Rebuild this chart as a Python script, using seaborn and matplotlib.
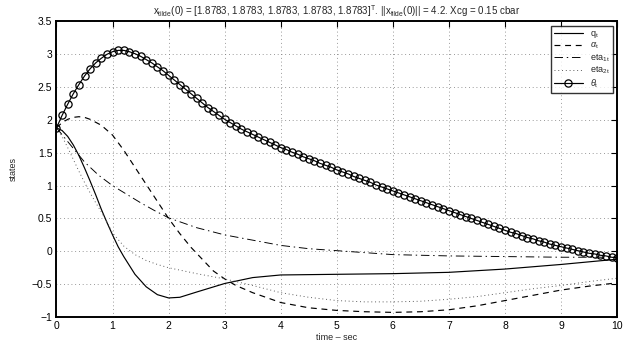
import matplotlib
matplotlib.use("Agg")
import matplotlib.pyplot as plt
import numpy as np
import pandas as pd
import seaborn as sns

# theta_t, sampled every 0.1 s (one marker per sample)
t_theta = [round(0.1 * i, 1) for i in range(101)]
theta = [
    1.88, 2.07, 2.24, 2.40, 2.54, 2.67, 2.78, 2.87, 2.94, 3.00,
    3.04, 3.06, 3.06, 3.04, 3.01, 2.97, 2.92, 2.87, 2.81, 2.75,
    2.68, 2.61, 2.54, 2.47, 2.40, 2.33, 2.26, 2.19, 2.13, 2.07,
    2.01, 1.96, 1.91, 1.86, 1.82, 1.78, 1.74, 1.70, 1.66, 1.62,
    1.58, 1.55, 1.51, 1.48, 1.44, 1.41, 1.38, 1.34, 1.31, 1.28,
    1.24, 1.21, 1.18, 1.14, 1.11, 1.08, 1.05, 1.01, 0.98, 0.95,
    0.92, 0.89, 0.86, 0.83, 0.80, 0.77, 0.74, 0.71, 0.68, 0.65,
    0.62, 0.59, 0.56, 0.53, 0.50, 0.47, 0.44, 0.41, 0.38, 0.35,
    0.32, 0.29, 0.27, 0.24, 0.21, 0.19, 0.16, 0.14, 0.11, 0.09,
    0.07, 0.05, 0.03, 0.01, -0.01, -0.03, -0.04, -0.06, -0.07, -0.09,
    -0.10,
]

t_q = [0, 0.1, 0.2, 0.3, 0.4, 0.5, 0.6, 0.7, 0.8, 0.9, 1.0, 1.1, 1.2, 1.4,
       1.6, 1.8, 2.0, 2.2, 2.5, 3.0, 3.5, 4.0, 5.0, 6.0, 7.0, 8.0, 9.0, 10.0]
q = [1.88, 1.84, 1.75, 1.62, 1.46, 1.27, 1.07, 0.86, 0.64, 0.44, 0.25, 0.07,
     -0.08, -0.35, -0.54, -0.66, -0.71, -0.70, -0.62, -0.49, -0.40, -0.36,
     -0.35, -0.34, -0.32, -0.27, -0.20, -0.12]

t_alpha = [0, 0.1, 0.2, 0.3, 0.4, 0.5, 0.6, 0.8, 1.0, 1.2, 1.4, 1.6, 1.8, 2.0,
           2.2, 2.4, 2.6, 2.8, 3.0, 3.2, 3.5, 4.0, 4.5, 5.0, 5.5, 6.0, 6.5,
           7.0, 7.5, 8.0, 8.5, 9.0, 9.5, 10.0]
alpha = [1.88, 1.96, 2.01, 2.04, 2.05, 2.04, 2.01, 1.92, 1.77, 1.54, 1.28,
         1.02, 0.76, 0.50, 0.27, 0.06, -0.12, -0.30, -0.42, -0.52, -0.63,
         -0.78, -0.86, -0.90, -0.92, -0.93, -0.92, -0.89, -0.83, -0.75,
         -0.67, -0.59, -0.53, -0.48]

t_eta1 = [0, 0.25, 0.5, 0.75, 1.0, 1.25, 1.5, 1.75, 2.0, 2.5, 3.0, 3.5, 4.0,
          4.5, 5.0, 5.5, 6.0, 7.0, 8.0, 9.0, 10.0]
eta1 = [1.88, 1.62, 1.36, 1.16, 1.00, 0.87, 0.74, 0.62, 0.51, 0.36, 0.25,
        0.17, 0.09, 0.04, 0.01, -0.02, -0.05, -0.07, -0.08, -0.09, -0.09]

t_eta2 = [0, 0.1, 0.2, 0.3, 0.4, 0.5, 0.6, 0.7, 0.8, 0.9, 1.0, 1.2, 1.4, 1.6,
          1.8, 2.0, 2.5, 3.0, 3.5, 4.0, 4.5, 5.0, 5.5, 6.0, 6.5, 7.0, 7.5,
          8.0, 8.5, 9.0, 9.5, 10.0]
eta2 = [1.88, 1.75, 1.58, 1.40, 1.22, 1.05, 0.89, 0.74, 0.60, 0.45, 0.28,
        0.08, -0.05, -0.14, -0.20, -0.25, -0.34, -0.42, -0.52, -0.63, -0.70,
        -0.75, -0.77, -0.77, -0.76, -0.73, -0.69, -0.63, -0.57, -0.52,
        -0.46, -0.41]

x_ticks = list(range(0, 11))
y_ticks = [-1, -0.5, 0, 0.5, 1, 1.5, 2, 2.5, 3, 3.5]
y_ticklabels = ["\u22121", "\u22120.5", "0", "0.5", "1", "1.5", "2", "2.5", "3", "3.5"]

TITLE = (r"x$_{\mathrm{tilde}}$(0) = [1.8783, 1.8783, 1.8783, 1.8783, 1.8783]$^{\mathrm{T}}$. "
         r"||x$_{\mathrm{tilde}}$(0)|| = 4.2. Xcg = 0.15 cbar")

sns.set_style("white")
plt.rcParams["font.family"] = ["Liberation Sans", "DejaVu Sans"]
plt.rcParams["mathtext.fontset"] = "custom"
plt.rcParams["mathtext.rm"] = "Liberation Sans"
plt.rcParams["mathtext.it"] = "Liberation Sans:italic"
plt.rcParams["mathtext.bf"] = "Liberation Sans:bold"

fig = plt.figure(figsize=(6.31, 3.45), dpi=100)
ax = fig.add_axes([0.0895, 0.0812, 0.8885, 0.8565])

lw = 0.85
sns.lineplot(x=t_q, y=q, ax=ax, color="black", lw=lw, label=r"q$_\mathrm{t}$")
sns.lineplot(x=t_alpha, y=alpha, ax=ax, color="black", lw=lw,
             linestyle=(0, (5, 4)), label=r"$\alpha_\mathrm{t}$")
sns.lineplot(x=t_eta1, y=eta1, ax=ax, color="black", lw=lw * 0.8,
             linestyle=(0, (9, 4, 1.5, 4)), label=r"eta$_{\mathrm{1t}}$")
sns.lineplot(x=t_eta2, y=eta2, ax=ax, color="#555555", lw=lw * 0.8,
             linestyle=(0, (1, 3)), label=r"eta$_{\mathrm{2t}}$")
sns.lineplot(x=t_theta, y=theta, ax=ax, color="black", lw=lw, marker="o",
             markersize=5.2, markerfacecolor="none", markeredgecolor="black",
             markeredgewidth=0.9, label=r"$\theta_\mathrm{t}$")

ax.set_xlim(0, 10)
ax.set_ylim(-1, 3.5)
ax.set_xticks(x_ticks)
ax.set_yticks(y_ticks)
ax.set_yticklabels(y_ticklabels)
ax.tick_params(direction="in", length=4, width=0.8, top=True, right=True,
               labelsize=7.5, pad=3, colors="black")
ax.grid(True, linestyle=(0, (1, 3.5)), color="#777777", lw=0.6)
for s in ax.spines.values():
    s.set_linewidth(1.4)
    s.set_color("black")

ax.set_xlabel("time \u2013 sec", fontsize=6.5, labelpad=1)
ax.set_ylabel("states", fontsize=6.5, labelpad=10)
ax.set_title(TITLE, fontsize=7, pad=5)

leg = ax.legend(loc="upper right", bbox_to_anchor=(0.992, 0.985), fontsize=6.5,
                frameon=True, fancybox=False, edgecolor="black",
                handlelength=3.2, handleheight=0.6, handletextpad=0.8,
                labelspacing=0.12, borderpad=0.3, borderaxespad=0)
leg.get_frame().set_linewidth(1.0)

fig.savefig("out.png", dpi=100)
